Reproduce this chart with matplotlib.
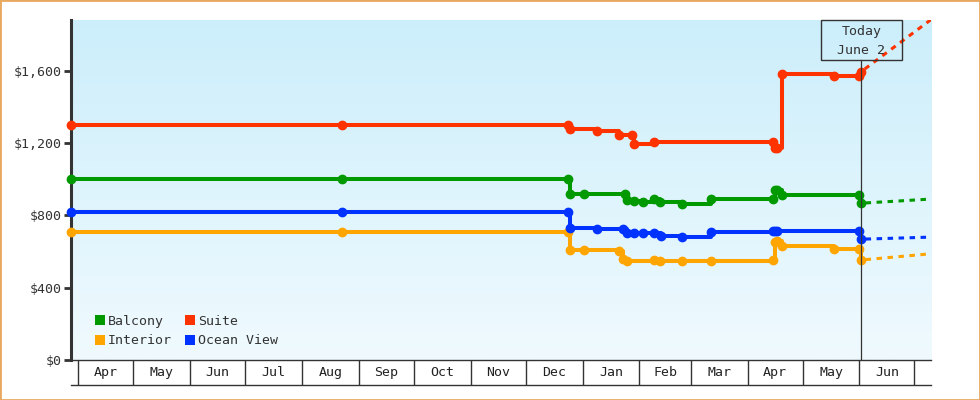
"""Cabin price history (step lines) with today marker and dashed projections."""
import matplotlib
matplotlib.use("Agg")
import matplotlib.pyplot as plt
import matplotlib.dates as mdates
import numpy as np
import pandas as pd
from matplotlib.patches import Patch, Rectangle
from matplotlib.transforms import blended_transform_factory

plt.rcParams["font.family"] = ["DejaVu Sans Mono"]

# ---- data ----
suite_dates = ["2013-03-28", "2013-08-23", "2013-12-24", "2013-12-25", "2014-01-09",
               "2014-01-21", "2014-01-28", "2014-01-29", "2014-02-09", "2014-04-15",
               "2014-04-16", "2014-04-17", "2014-04-20", "2014-05-18", "2014-06-01", "2014-06-02"]
suite = [1300, 1300, 1300, 1275, 1265, 1245, 1245, 1195, 1205, 1205,
         1170, 1170, 1580, 1570, 1570, 1595]

balcony_dates = ["2013-03-28", "2013-08-23", "2013-12-24", "2013-12-25", "2014-01-02",
                 "2014-01-24", "2014-01-25", "2014-01-29", "2014-02-03", "2014-02-09",
                 "2014-02-12", "2014-02-24", "2014-03-12", "2014-04-15", "2014-04-16",
                 "2014-04-17", "2014-04-20", "2014-06-01", "2014-06-02"]
balcony = [1000, 1000, 1000, 920, 920, 920, 885, 880, 873, 893,
           876, 862, 891, 888, 942, 942, 913, 913, 867]

ocean_dates = ["2013-03-28", "2013-08-23", "2013-12-24", "2013-12-25", "2014-01-09",
               "2014-01-23", "2014-01-25", "2014-01-29", "2014-02-03", "2014-02-09",
               "2014-02-13", "2014-02-24", "2014-03-12", "2014-04-15", "2014-04-16",
               "2014-04-17", "2014-06-01", "2014-06-02"]
ocean = [820, 820, 820, 730, 723, 723, 701, 701, 701, 701,
         686, 679, 706, 711, 713, 713, 713, 668]

interior_dates = ["2013-03-28", "2013-08-23", "2013-12-24", "2013-12-25", "2014-01-02",
                  "2014-01-21", "2014-01-23", "2014-01-25", "2014-02-09", "2014-02-12",
                  "2014-02-24", "2014-03-12", "2014-04-15", "2014-04-16", "2014-04-17",
                  "2014-04-20", "2014-05-18", "2014-06-01", "2014-06-02"]
interior = [710, 710, 710, 610, 609, 600, 560, 550, 555, 550,
            550, 550, 553, 655, 660, 631, 616, 616, 553]

# projections after today
proj_dates = ["2014-06-02", "2014-07-15"]
suite_proj = [1595, 1920]
balcony_proj = [867, 893]
ocean_proj = [668, 681]
interior_proj = [553, 592]

today = "2014-06-02"
today_text = ["Today", "June 2"]
month_labels = ["Apr", "May", "Jun", "Jul", "Aug", "Sep", "Oct", "Nov", "Dec",
                "Jan", "Feb", "Mar", "Apr", "May", "Jun"]
yticks = [0, 400, 800, 1200, 1600]

# ---- styling ----
GREEN, RED, ORANGE, BLUE = "#009900", "#FF3300", "#FFA500", "#0033FF"
INK = "#333333"
x_lo, x_hi = mdates.datestr2num("2013-03-28"), mdates.datestr2num("2014-07-10")

fig = plt.figure(figsize=(9.8, 4.0), dpi=100)
fig.patch.set_facecolor("white")
ax = fig.add_axes([71 / 980, 40 / 400, 860 / 980, 340 / 400])

# gradient background
grad = np.linspace(0, 1, 256)[:, None]
top_c, bot_c = np.array([0xCC, 0xEE, 0xFB]) / 255, np.array([0xF0, 0xFA, 0xFE]) / 255
img = top_c[None, None, :] * (1 - grad[:, :, None]) + bot_c[None, None, :] * grad[:, :, None]
ax.imshow(img, extent=[0, 1, 0, 1], transform=ax.transAxes, aspect="auto", zorder=0)

series = [
    ("Balcony", balcony_dates, balcony, balcony_proj, GREEN),
    ("Interior", interior_dates, interior, interior_proj, ORANGE),
    ("Suite", suite_dates, suite, suite_proj, RED),
    ("Ocean View", ocean_dates, ocean, ocean_proj, BLUE),
]
for name, d, v, p, c in series:
    ax.plot(pd.to_datetime(d), v, drawstyle="steps-post", color=c, lw=2.9, zorder=3)
    ax.plot(pd.to_datetime(d), v, ls="none", marker="o", ms=6, color=c, zorder=4, clip_on=False)
    ax.plot(pd.to_datetime(proj_dates), p, color=c, lw=2.2, ls=(2.2, (1.8, 1.8)), zorder=3)

# today marker
t = mdates.datestr2num(today)
box_h = 40 / 340
ax.axvline(t, ymin=0, ymax=1 - box_h, color=INK, lw=0.9, zorder=5)
bt = blended_transform_factory(ax.transData, ax.transAxes)
half_w = 40.5 / 860 * (x_hi - x_lo)
ax.add_patch(Rectangle((t - half_w, 1 - box_h), 2 * half_w, box_h, transform=bt,
                       fill=False, ec=INK, lw=1, zorder=6, clip_on=False))
ax.text(t, 1 - 12 / 340, today_text[0], transform=bt, ha="center", va="center",
        fontsize=9.5, color=INK, zorder=7)
ax.text(t, 1 - 30 / 340, today_text[1], transform=bt, ha="center", va="center",
        fontsize=9.5, color=INK, zorder=7)

ax.set_xlim(x_lo, x_hi)
ax.set_ylim(0, 1880)
ax.set_xticks([])
ax.set_yticks(yticks)
ax.set_yticklabels([f"${v:,}" for v in yticks])
ax.tick_params(axis="y", length=5, width=2, color=INK, labelcolor=INK, labelsize=9.5, pad=2)
for s in ("top", "right"):
    ax.spines[s].set_visible(False)
ax.spines["left"].set_linewidth(2.2)
ax.spines["left"].set_color(INK)
ax.spines["bottom"].set_linewidth(1)
ax.spines["bottom"].set_color(INK)

handles = [Patch(facecolor=c, edgecolor="none", label=n) for n, _, _, _, c in series]
ax.legend(handles=handles, ncol=2, loc="lower left", bbox_to_anchor=(0.02, 0.018),
          frameon=False, fontsize=9.5, handlelength=0.75, handleheight=0.75,
          handletextpad=0.25, columnspacing=1.0, labelspacing=0.5, borderpad=0.0,
          labelcolor=INK)

# month strip under the plot
ax2 = fig.add_axes([71 / 980, 15 / 400, 860 / 980, 25 / 400])
ax2.set_xlim(x_lo, x_hi)
ax2.set_ylim(0, 1)
ax2.patch.set_alpha(0)
starts = mdates.date2num(pd.date_range("2013-04-01", "2014-07-01", freq="MS"))
ax2.vlines(starts, 0, 1, color=INK, lw=1)
for lab, a, b in zip(month_labels, starts[:-1], starts[1:]):
    ax2.text((a + b) / 2, 0.5, lab, ha="center", va="center", fontsize=9.5, color="#222222")
ax2.set_xticks([])
ax2.set_yticks([])
for s in ("top", "left", "right"):
    ax2.spines[s].set_visible(False)
ax2.spines["bottom"].set_color(INK)
ax2.spines["bottom"].set_linewidth(1)

# outer border
fig.patches.append(Rectangle((0, 0), 1, 1, transform=fig.transFigure, fill=False,
                             ec="#E8A860", lw=2))

fig.savefig("out.png", dpi=100)
